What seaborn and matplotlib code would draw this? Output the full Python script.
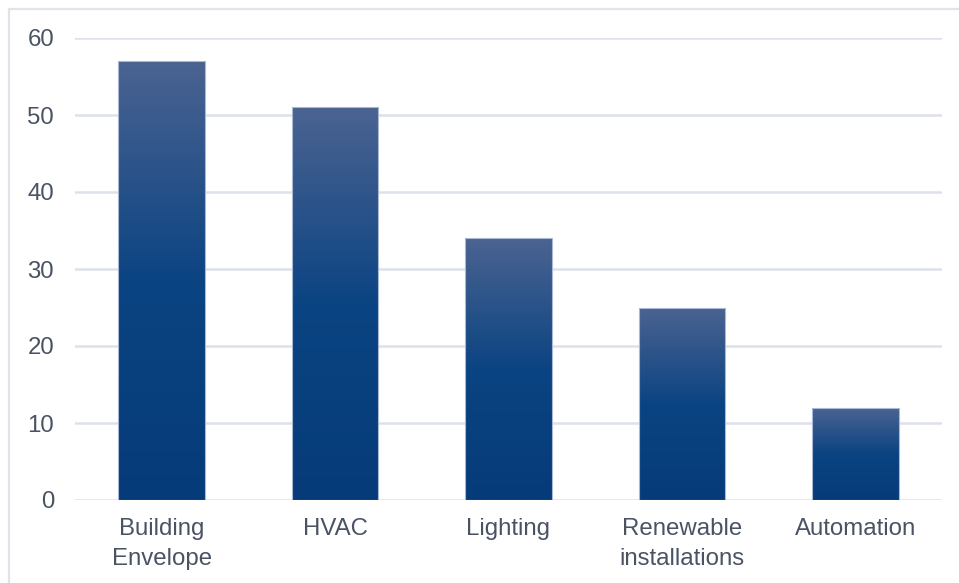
import numpy as np
import pandas as pd
import matplotlib
matplotlib.use("Agg")
import matplotlib.pyplot as plt
from matplotlib.colors import LinearSegmentedColormap
from matplotlib.lines import Line2D
import seaborn as sns

categories = ["Building\nEnvelope", "HVAC", "Lighting", "Renewable\ninstallations", "Automation"]
values = [57, 51, 34, 25, 12]
y_ticks = [0, 10, 20, 30, 40, 50, 60]

sns.set_theme(style="white")
plt.rcParams["font.family"] = ["Liberation Sans", "DejaVu Sans"]

fig = plt.figure(figsize=(9.59, 5.83), dpi=100)
ax = fig.add_axes([75 / 959, 83 / 583, 867 / 959, 462 / 583])

df = pd.DataFrame({"category": categories, "value": values})
sns.barplot(data=df, x="category", y="value", width=0.5, color="#0b4482", ax=ax,
            saturation=1)

# vertical gradient fill for each bar: slate blue at top, navy towards the base
grad = LinearSegmentedColormap.from_list(
    "bar_grad", [(0.0, "#4b6391"), (0.5, "#0b4482"), (1.0, "#053b78")])
gradient = np.linspace(0, 1, 256).reshape(-1, 1)
for patch in ax.patches:
    x0, y0 = patch.get_x(), patch.get_y()
    w, h = patch.get_width(), patch.get_height()
    im = ax.imshow(gradient, cmap=grad, aspect="auto", origin="upper",
                   extent=[x0, x0 + w, y0, y0 + h], zorder=2.5, interpolation="bilinear")
    im.set_clip_path(patch)
    patch.set_facecolor("none")
    patch.set_edgecolor("#a9b8d4")
    patch.set_linewidth(0.8)
    patch.set_zorder(3)

ax.set_xlim(-0.5, 4.5)
ax.set_ylim(0, 60)
ax.set_yticks(y_ticks)
ax.set_yticklabels([str(t) for t in y_ticks])
ax.set_xlabel("")
ax.set_ylabel("")

ax.set_axisbelow(True)
ax.yaxis.grid(True, color="#dde1e9", linewidth=1.8)
ax.xaxis.grid(False)
for side in ["top", "right", "left", "bottom"]:
    ax.spines[side].set_visible(False)

ax.tick_params(axis="y", length=0, pad=15, labelsize=17.3, labelcolor="#4a5364")
ax.tick_params(axis="x", length=0, pad=13, labelsize=17.3, labelcolor="#4a5364")
for lbl in ax.get_xticklabels():
    lbl.set_linespacing(1.46)

# light frame along the top and left edges of the figure
fig.add_artist(Line2D([9 / 959, 1.0], [1 - 9 / 583, 1 - 9 / 583],
                      transform=fig.transFigure, color="#dfe3ea", linewidth=1.6))
fig.add_artist(Line2D([9 / 959, 9 / 959], [0.0, 1 - 9 / 583],
                      transform=fig.transFigure, color="#dfe3ea", linewidth=1.6))

fig.savefig("out.png", dpi=100, facecolor="white")
